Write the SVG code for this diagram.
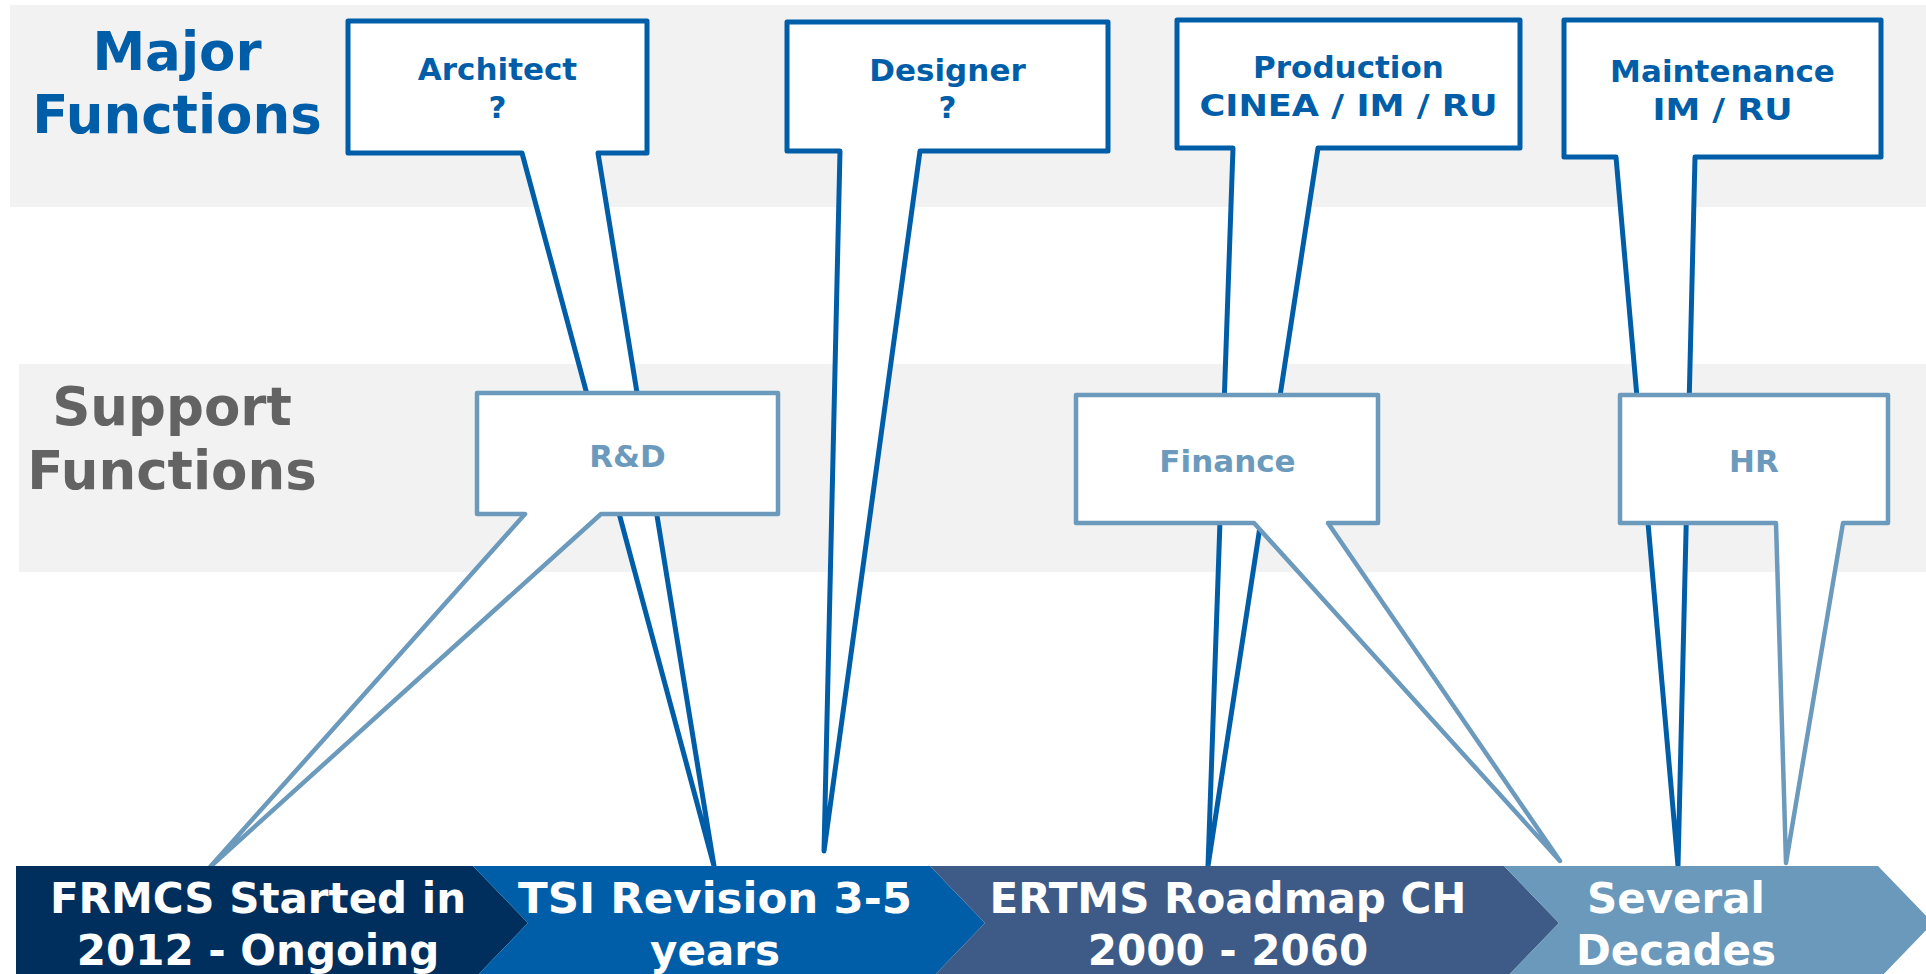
<svg xmlns="http://www.w3.org/2000/svg" width="1926" height="974" viewBox="0 0 1926 974">
<style>
  .band { fill: #F2F2F2; }
  .hdr { font-family: "DejaVu Sans", "Liberation Sans", sans-serif; font-weight: bold; font-size: 53px; text-anchor: middle; }
  .major { fill: #FFFFFF; stroke: #005EA8; stroke-width: 5; stroke-linejoin: round; }
  .support { fill: #FFFFFF; stroke: #6B9ABC; stroke-width: 4.5; stroke-linejoin: round; }
  .lbl { font-family: "DejaVu Sans", "Liberation Sans", sans-serif; font-weight: bold; font-size: 31px; text-anchor: middle; }
  .mlbl { fill: #005EA8; }
  .slbl { fill: #6B9ABC; }
  .bar { font-family: "DejaVu Sans", "Liberation Sans", sans-serif; font-weight: bold; font-size: 42px; text-anchor: middle; fill: #FFFFFF; }
</style>
<rect width="1926" height="974" fill="#FFFFFF"/>
<g id="bands">
  <rect class="band" x="10" y="5" width="1916" height="202"/>
  <rect class="band" x="19" y="364" width="1907" height="208"/>
</g>
<g id="header-major">
  <text class="hdr" x="177" y="70" fill="#005EA8">Major</text>
  <text class="hdr" x="177" y="133" fill="#005EA8">Functions</text>
</g>
<g id="header-support">
  <text class="hdr" x="172" y="425" fill="#636363">Support</text>
  <text class="hdr" x="172" y="489" fill="#636363">Functions</text>
</g>
<g id="architect">
  <polygon class="major" points="348,21 647,21 647,153 598,153 714,866 522,153 348,153"/>
  <text class="lbl mlbl" x="497.5" y="80">Architect</text>
  <text class="lbl mlbl" x="497.5" y="118">?</text>
</g>
<g id="designer">
  <polygon class="major" points="787,22 1108,22 1108,151 920,151 824,851 840,151 787,151"/>
  <text class="lbl mlbl" x="947.5" y="81">Designer</text>
  <text class="lbl mlbl" x="947.5" y="118">?</text>
</g>
<g id="production">
  <polygon class="major" points="1177,20 1520,20 1520,148 1318,148 1208,866 1233,148 1177,148"/>
  <text class="lbl mlbl" x="1348.5" y="78">Production</text>
  <text class="lbl mlbl" x="1348.5" y="116" textLength="298" lengthAdjust="spacingAndGlyphs">CINEA / IM / RU</text>
</g>
<g id="maintenance">
  <polygon class="major" points="1564,20 1881,20 1881,157 1695,157 1678,866 1616,157 1564,157"/>
  <text class="lbl mlbl" x="1722.5" y="82">Maintenance</text>
  <text class="lbl mlbl" x="1722.5" y="120" textLength="140" lengthAdjust="spacingAndGlyphs">IM / RU</text>
</g>
<g id="rnd">
  <polygon class="support" points="477,393 778,393 778,514 601,514 210,867 525,514 477,514"/>
  <text class="lbl slbl" x="627.5" y="467">R&amp;D</text>
</g>
<g id="finance">
  <polygon class="support" points="1076,395 1378,395 1378,523 1328,523 1560,861 1254,523 1076,523"/>
  <text class="lbl slbl" x="1227.5" y="472">Finance</text>
</g>
<g id="hr">
  <polygon class="support" points="1620,395 1888,395 1888,523 1843,523 1786,863 1776,523 1620,523"/>
  <text class="lbl slbl" x="1754" y="472">HR</text>
</g>
<g id="phase-frmcs">
  <polygon fill="#002F5D" points="16,866 473,866 528,923 473,980 16,980"/>
  <text class="bar" x="258" y="913">FRMCS Started in</text>
  <text class="bar" x="258" y="965">2012 - Ongoing</text>
</g>
<g id="phase-tsi">
  <polygon fill="#005EA8" points="473,866 930,866 985,923 930,980 473,980 528,923"/>
  <text class="bar" x="715" y="913" textLength="394" lengthAdjust="spacingAndGlyphs">TSI Revision 3-5</text>
  <text class="bar" x="715" y="965">years</text>
</g>
<g id="phase-ertms">
  <polygon fill="#3D5B86" points="930,866 1504,866 1559,923 1504,980 930,980 985,923"/>
  <text class="bar" x="1228" y="913">ERTMS Roadmap CH</text>
  <text class="bar" x="1228" y="965">2000 - 2060</text>
</g>
<g id="phase-decades">
  <polygon fill="#6A99BB" points="1504,866 1878,866 1933,923 1878,980 1504,980 1559,923"/>
  <text class="bar" x="1676" y="913">Several</text>
  <text class="bar" x="1676" y="965">Decades</text>
</g>
</svg>
